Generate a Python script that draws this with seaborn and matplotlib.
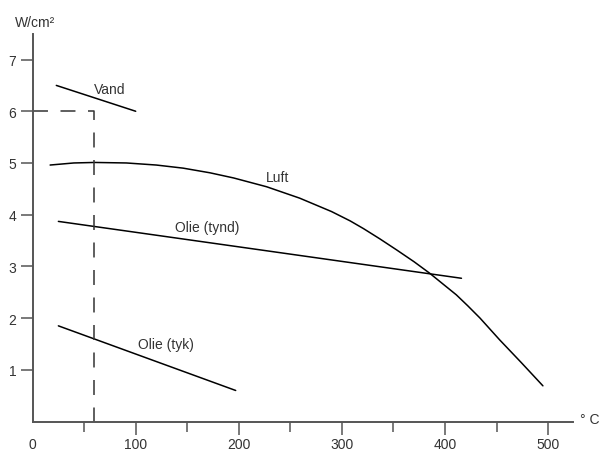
import matplotlib
matplotlib.use("Agg")
import matplotlib.pyplot as plt
import seaborn as sns
import pandas as pd
from matplotlib.ticker import FixedLocator

# ---- data ----
vand_x = [23, 100]
vand_y = [6.5, 6.0]

luft_x = [17, 40, 60, 91, 120, 146, 172, 195, 227, 259, 290, 308, 321, 337,
          353, 370, 385, 398, 411, 422, 434, 453, 474, 495]
luft_y = [4.96, 5.0, 5.01, 5.0, 4.96, 4.90, 4.81, 4.71, 4.54, 4.32, 4.06,
          3.88, 3.73, 3.53, 3.32, 3.09, 2.87, 2.66, 2.45, 2.24, 2.00, 1.58,
          1.14, 0.69]

tynd_x = [25, 416]
tynd_y = [3.87, 2.77]

tyk_x = [25, 197]
tyk_y = [1.85, 0.60]

ref_x = [0, 60, 60]
ref_y = [6, 6, 0]

series_names = ["Vand", "Luft", "Olie (tynd)", "Olie (tyk)"]
x_ticks = [0, 100, 200, 300, 400, 500]
x_minor = [50, 150, 250, 350, 450]
y_ticks = [1, 2, 3, 4, 5, 6, 7]
y_unit = "W/cm²"
x_unit = "° C"

# ---- build table ----
frames = []
for name, xs, ys in zip(series_names, [vand_x, luft_x, tynd_x, tyk_x],
                        [vand_y, luft_y, tynd_y, tyk_y]):
    frames.append(pd.DataFrame({"x": xs, "y": ys, "series": name}))
df = pd.concat(frames, ignore_index=True)
ref_df = pd.DataFrame({"x": ref_x, "y": ref_y})

sns.set_style("white")
plt.rcParams["font.family"] = ["Liberation Sans", "DejaVu Sans"]

fig = plt.figure(figsize=(6.02, 4.52), dpi=100)
ax = fig.add_axes([32.6 / 602, 29.5 / 452, 540.2 / 602, 387.8 / 452])

sns.lineplot(data=df, x="x", y="y", units="series", estimator=None,
             sort=False, color="black", linewidth=1.1, ax=ax, legend=False)
sns.lineplot(data=ref_df, x="x", y="y", estimator=None, sort=False,
             color="#333333", linewidth=1.1, ax=ax, legend=False,
             dashes=False)
ax.lines[-1].set_dashes((9.8, 8.2))
for ln in ax.lines:
    ln.set_solid_joinstyle("round")

ax.set_xlim(0, 524)
ax.set_ylim(0, 7.5)
ax.set_xlabel("")
ax.set_ylabel("")

for s in ["top", "right"]:
    ax.spines[s].set_visible(False)
axis_col = "#555555"
for s in ["left", "bottom"]:
    ax.spines[s].set_color(axis_col)
    ax.spines[s].set_linewidth(1.4)

ax.xaxis.set_major_locator(FixedLocator(x_ticks))
ax.xaxis.set_minor_locator(FixedLocator(x_minor))
ax.set_xticklabels([str(t) for t in x_ticks])
ax.yaxis.set_major_locator(FixedLocator(y_ticks))
ax.set_yticklabels([str(t) for t in y_ticks])

ax.tick_params(axis="x", which="major", direction="out", length=9.5, width=1.1,
               color=axis_col, labelsize=10, labelcolor="#333333", pad=2,
               bottom=True)
ax.tick_params(axis="x", which="minor", direction="out", length=7, width=1.1,
               color=axis_col, bottom=True)
ax.tick_params(axis="y", which="major", direction="out", length=8.6, width=1.1,
               color=axis_col, labelsize=10, labelcolor="#333333", pad=3,
               left=True)
ax.xaxis.get_major_ticks()[0].tick1line.set_visible(False)

# series labels
label_pos = {"Vand": (75, 6.43), "Luft": (238, 4.73),
             "Olie (tynd)": (169, 3.76), "Olie (tyk)": (129, 1.50)}
for name in series_names:
    lx, ly = label_pos[name]
    ax.text(lx, ly, name, fontsize=10, color="#333333", ha="center",
            va="center")

fig.text(35 / 602, 1 - 23 / 452, y_unit, fontsize=10, color="#333333",
         ha="center", va="center")
fig.text(580 / 602, 1 - 420 / 452, x_unit, fontsize=10, color="#333333",
         ha="left", va="center")

fig.savefig("out.png", dpi=100)
